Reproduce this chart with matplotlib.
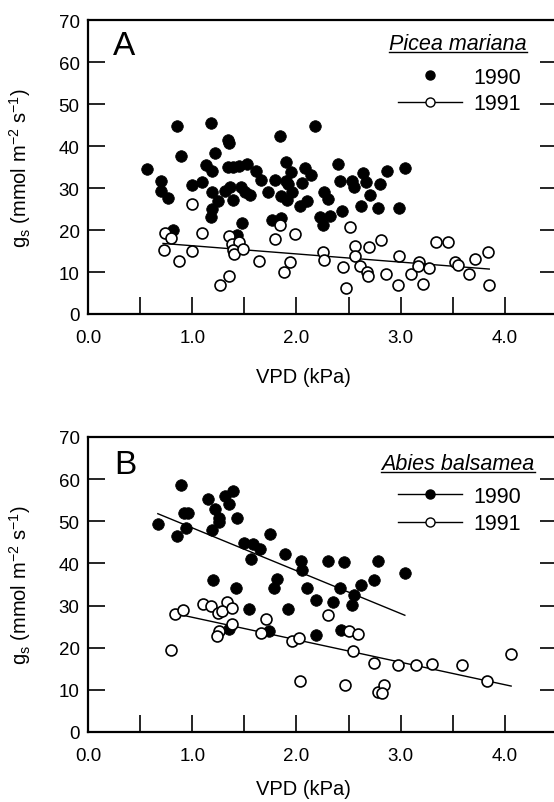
import matplotlib
matplotlib.use('Agg')
import matplotlib.pyplot as plt
from matplotlib.lines import Line2D
import numpy as np

plt.rcParams['font.family'] = ['Liberation Sans', 'DejaVu Sans']
plt.rcParams['mathtext.fontset'] = 'custom'
plt.rcParams['mathtext.rm'] = 'Liberation Sans'
plt.rcParams['mathtext.it'] = 'Liberation Sans:italic'
plt.rcParams['mathtext.default'] = 'regular'

# ---------------- data ----------------
years = ['1990', '1991']
species = ['Picea mariana', 'Abies balsamea']
panel_letters = ['A', 'B']
x_ticks = [0, 1, 2, 3, 4]
x_tick_labels = ['0.0', '1.0', '2.0', '3.0', '4.0']
y_ticks = [0, 10, 20, 30, 40, 50, 60, 70]
y_tick_labels = ['0', '10', '20', '30', '40', '50', '60', '70']

# Panel A (Picea mariana)
a90_x = [0.57, 0.70, 0.70, 0.77, 0.82, 0.85, 0.89, 1.00, 1.09, 1.18, 1.13, 1.19, 1.22, 1.19, 1.25,
         1.19, 1.18, 1.34, 1.35, 1.31, 1.36, 1.39, 1.34, 1.39, 1.45, 1.53, 1.47, 1.51, 1.55, 1.48,
         1.43, 1.61, 1.66, 1.73, 1.79, 1.77, 1.85, 1.84, 1.90, 1.85, 1.90, 1.92, 1.95, 1.96, 1.91,
         2.08, 2.14, 2.05, 2.10, 2.03, 2.18, 2.40, 2.42, 2.53, 2.55, 2.64, 2.67, 2.71, 2.80, 2.87,
         3.04, 2.26, 2.30, 2.23, 2.25, 2.32, 2.44, 2.62, 2.78, 2.98]
a90_y = [34.5, 31.7, 29.2, 27.6, 20.1, 44.8, 37.7, 30.8, 31.4, 45.4, 35.5, 34.1, 38.3, 29.1, 27.0,
         25.0, 23.0, 41.5, 40.7, 29.4, 30.2, 27.2, 34.9, 34.9, 35.3, 35.6, 30.2, 29.1, 28.3, 21.6,
         18.7, 34.0, 31.9, 29.1, 31.9, 22.4, 22.8, 42.3, 36.1, 28.2, 31.7, 30.9, 33.7, 29.0, 27.1,
         34.8, 33.2, 31.3, 26.8, 25.8, 44.8, 35.6, 31.7, 31.7, 30.2, 33.5, 31.5, 28.3, 31.0, 34.0,
         34.7, 29.0, 27.4, 23.0, 21.3, 23.4, 24.6, 25.6, 25.2, 25.2]
a91_x = [0.74, 0.80, 0.73, 0.87, 1.00, 1.00, 1.09, 1.27, 1.35, 1.35, 1.38, 1.45, 1.39, 1.40, 1.49,
         1.64, 1.79, 1.84, 1.88, 1.94, 1.99, 2.25, 2.26, 2.51, 2.56, 2.56, 2.61, 2.70, 2.81, 2.45,
         2.48, 2.68, 2.69, 2.86, 2.98, 2.97, 3.10, 3.18, 3.17, 3.21, 3.27, 3.34, 3.45, 3.52, 3.55,
         3.66, 3.71, 3.84, 3.85]
a91_y = [19.3, 18.1, 15.2, 12.6, 26.2, 14.9, 19.2, 7.0, 9.1, 18.5, 16.7, 17.2, 15.3, 14.3, 15.5,
         12.7, 17.9, 21.3, 9.9, 12.3, 19.0, 14.7, 12.9, 20.8, 16.1, 13.9, 11.5, 15.9, 17.6, 11.1,
         6.1, 9.9, 9.1, 9.5, 13.7, 7.0, 9.5, 12.3, 11.5, 7.1, 10.9, 17.1, 17.1, 12.3, 11.7,
         9.5, 13.1, 14.7, 7.0]
a91_fit_x = [0.72, 3.85]
a91_fit_y = [16.8, 10.7]

# Panel B (Abies balsamea)
b90_x = [0.67, 0.89, 0.85, 0.92, 0.96, 0.94, 1.15, 1.22, 1.26, 1.26, 1.19, 1.31, 1.35, 1.39, 1.43,
         1.20, 1.42, 1.35, 1.50, 1.58, 1.65, 1.56, 1.54, 1.75, 1.81, 1.78, 1.74, 1.89, 1.92, 2.04,
         2.05, 2.10, 2.19, 2.19, 2.30, 2.46, 2.78, 2.42, 2.35, 2.55, 2.53, 2.62, 2.74, 3.04, 2.43]
b90_y = [49.4, 58.7, 46.4, 52.0, 52.0, 48.4, 55.4, 53.0, 50.8, 49.8, 48.0, 56.0, 54.0, 57.2, 50.8,
         36.0, 34.2, 24.4, 44.9, 44.7, 43.5, 41.0, 29.1, 46.9, 36.4, 34.2, 23.9, 42.3, 29.1, 40.5,
         38.5, 34.2, 31.4, 22.9, 40.5, 40.3, 40.5, 34.2, 30.9, 32.6, 30.2, 35.0, 36.1, 37.8, 24.3]
b91_x = [0.80, 0.83, 0.91, 1.10, 1.18, 1.25, 1.33, 1.29, 1.38, 1.38, 1.26, 1.24, 1.71, 1.66, 1.96,
         2.02, 2.03, 2.30, 2.50, 2.59, 2.54, 2.47, 2.74, 2.78, 2.84, 2.82, 2.97, 3.15, 3.30, 3.59,
         3.83, 4.06]
b91_y = [19.5, 27.9, 29.0, 30.3, 29.8, 28.3, 30.9, 28.6, 29.4, 25.7, 24.0, 22.7, 26.7, 23.6, 21.5,
         22.2, 12.0, 27.7, 24.0, 23.3, 19.2, 11.2, 16.4, 9.5, 11.1, 9.3, 16.0, 15.8, 16.1, 16.0,
         12.0, 18.4]
b90_fit_x = [0.67, 3.04]
b90_fit_y = [51.8, 27.7]
b91_fit_x = [0.91, 4.06]
b91_fit_y = [27.7, 10.9]

# ---------------- figure ----------------
W, H = 554, 803
fig = plt.figure(figsize=(W / 100, H / 100), dpi=100)

LEFT, RIGHT = 88, 557


def make_axes(top_px, bottom_px):
    return fig.add_axes([LEFT / W, 1 - bottom_px / H, (RIGHT - LEFT) / W, (bottom_px - top_px) / H])


axA = make_axes(21, 315)
axB = make_axes(438, 733)

TICK_FS = 13.5
LAB_FS = 14.5
LEG_FS = 15.5

ylabel = r'g$_\mathregular{s}$ (mmol m$^{\mathregular{-2}}$ s$^{\mathregular{-1}}$)'


def style(ax, xlab_offset, ax_h):
    ax.set_xlim(0, 4.5)
    ax.set_ylim(0, 70)
    ax.set_xticks(x_ticks)
    ax.set_xticklabels(x_tick_labels)
    ax.set_xticks([0.5, 1.5, 2.5, 3.5], minor=True)
    ax.set_yticks(y_ticks)
    ax.set_yticklabels(y_tick_labels)
    ax.tick_params(which='both', direction='in', length=12, width=1.2,
                   top=False, right=True, labelright=False, labelsize=TICK_FS)
    ax.tick_params(axis='x', which='both', pad=10.5)
    ax.tick_params(axis='y', which='both', pad=6)
    for sp in ax.spines.values():
        sp.set_linewidth(1.6)
    ax.set_xlabel('VPD (kPa)', fontsize=LAB_FS)
    ax.xaxis.label.set_va('center')
    ax.xaxis.set_label_coords((303 - LEFT) / (RIGHT - LEFT), -xlab_offset / ax_h)
    ax.set_ylabel(ylabel, fontsize=LAB_FS)
    ax.yaxis.label.set_va('center')
    ax.yaxis.set_label_coords((20 - LEFT) / (RIGHT - LEFT), 0.5)


S_FILL = 70
S_OPEN = 62


def filled(ax, x, y):
    ax.scatter(x, y, s=S_FILL, c='black', edgecolors='black', linewidths=0.5, zorder=3)


def opened(ax, x, y):
    ax.scatter(x, y, s=S_OPEN, facecolors='white', edgecolors='black', linewidths=1.2, zorder=4)


# Panel A
style(axA, 63, 294)
axA.plot(a91_fit_x, a91_fit_y, color='black', lw=1.0, zorder=2)
filled(axA, a90_x, a90_y)
opened(axA, a91_x, a91_y)

# Panel B
style(axB, 57, 295)
axB.plot(b90_fit_x, b90_fit_y, color='black', lw=1.0, zorder=2)
axB.plot(b91_fit_x, b91_fit_y, color='black', lw=1.0, zorder=2)
filled(axB, b90_x, b90_y)
opened(axB, b91_x, b91_y)

# panel letters
axA.text(0.053, 0.912, panel_letters[0], transform=axA.transAxes, fontsize=24, ha='left', va='center')
axB.text(0.055, 0.908, panel_letters[1], transform=axB.transAxes, fontsize=24, ha='left', va='center')

# species titles (underlined, italic)
titles = []
titles.append(axA.text(0.789, (315 - 50) / 294, species[0], transform=axA.transAxes, fontsize=LEG_FS,
                       style='italic', ha='center', va='baseline'))
titles.append(axB.text(0.789, (733 - 470) / 295, species[1], transform=axB.transAxes, fontsize=LEG_FS,
                       style='italic', ha='center', va='baseline'))

# legends
mk = 6.5
hA = [Line2D([], [], ls='none', marker='o', color='black', markersize=mk),
      Line2D([], [], ls='-', lw=1.0, color='black', marker='o', mfc='white', mec='black', markersize=mk)]
hB = [Line2D([], [], ls='-', lw=1.0, color='black', marker='o', markersize=mk),
      Line2D([], [], ls='-', lw=1.0, color='black', marker='o', mfc='white', mec='black', markersize=mk)]
for ax, h, top_px, ax_top, ax_h, sp in [(axA, hA, 68, 21, 294, 0.25), (axB, hB, 487, 438, 295, 0.3)]:
    ax_bottom = ax_top + ax_h
    ax.legend(h, years, loc='upper right',
              bbox_to_anchor=((521 - LEFT) / (RIGHT - LEFT), (ax_bottom - top_px) / ax_h),
              frameon=False, fontsize=LEG_FS, handlelength=3.0, handletextpad=0.5,
              borderpad=0, borderaxespad=0, labelspacing=sp)

# underline titles
fig.canvas.draw()
for t in titles:
    bb = t.get_window_extent()
    xb, yb = t.get_transform().transform(t.get_position())
    fig.add_artist(Line2D([bb.x0, bb.x1], [yb - 2.5, yb - 2.5], color='black', lw=1.0, transform=None))

fig.savefig('out.png', dpi=100)
